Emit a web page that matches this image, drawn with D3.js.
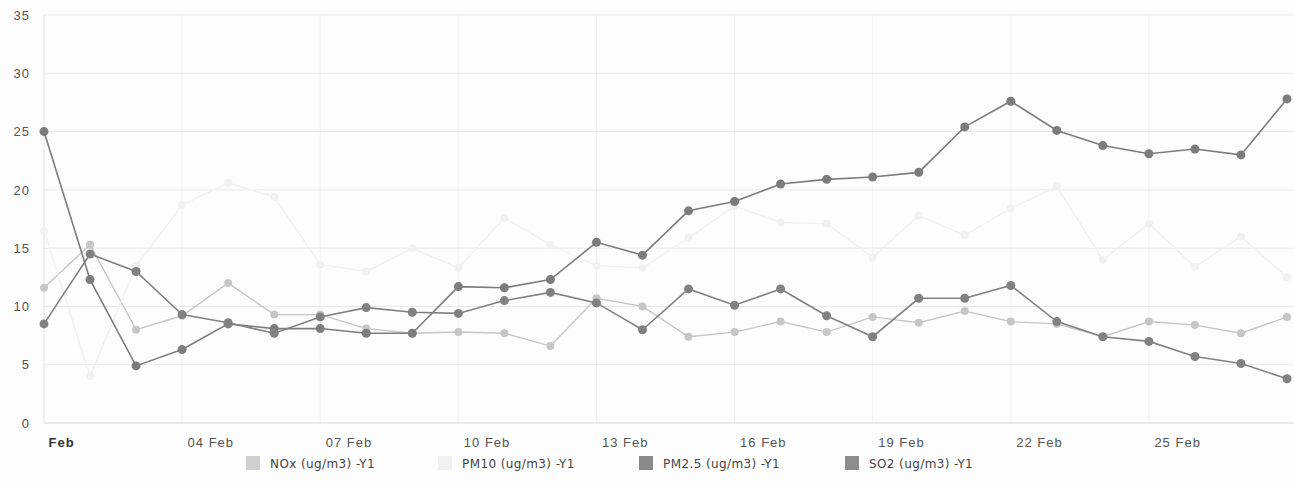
<!DOCTYPE html>
<html>
<head>
<meta charset="utf-8">
<script src="https://cdn.jsdelivr.net/npm/d3@7"></script>
<style>
  body { margin: 0; background: #fdfdfd; }
  svg { display: block; font-family: 'DejaVu Sans', Verdana, sans-serif; }
</style>
</head>
<body>
<svg class="chart"></svg>
<script>
const graphWidth = 1294;
const graphHeight = 488;

// data (one value per day, 01..28 Feb)
const days = d3.range(1, 29);
const nox = [11.6, 15.3, 8.0, 9.2, 12.0, 9.3, 9.3, 8.1, 7.7, 7.8, 7.7, 6.6, 10.7, 10.0,
  7.4, 7.8, 8.7, 7.8, 9.1, 8.6, 9.6, 8.7, 8.5, 7.4, 8.7, 8.4, 7.7, 9.1];
const pm10 = [16.5, 4.0, 13.5, 18.7, 20.6, 19.4, 13.6, 13.0, 15.0, 13.3, 17.6, 15.3, 13.5, 13.3,
  15.9, 18.6, 17.2, 17.1, 14.2, 17.8, 16.1, 18.4, 20.3, 14.0, 17.1, 13.4, 16.0, 12.5];
const pm25 = [25.0, 12.3, 4.9, 6.3, 8.5, 8.1, 8.1, 7.7, 7.7, 11.7, 11.6, 12.3, 15.5, 14.4,
  18.2, 19.0, 20.5, 20.9, 21.1, 21.5, 25.4, 27.6, 25.1, 23.8, 23.1, 23.5, 23.0, 27.8];
const so2 = [8.5, 14.5, 13.0, 9.3, 8.6, 7.7, 9.1, 9.9, 9.5, 9.4, 10.5, 11.2, 10.3, 8.0,
  11.5, 10.1, 11.5, 9.2, 7.4, 10.7, 10.7, 11.8, 8.7, 7.4, 7.0, 5.7, 5.1, 3.8];
const seriesNames = ['NOx (ug/m3) -Y1', 'PM10 (ug/m3) -Y1', 'PM2.5 (ug/m3) -Y1', 'SO2 (ug/m3) -Y1'];
const yTicks = [0, 5, 10, 15, 20, 25, 30, 35];
const xTickDays = [1, 4, 7, 10, 13, 16, 19, 22, 25];

const colors = ['#c6c6c6', '#f1f1f1', '#7c7c7c', '#818181'];
const legendColors = ['#cfcfcf', '#f0f0f0', '#8a8a8a', '#8c8c8c'];

const margin = { top: 15, right: 7, bottom: 65, left: 44 };
const date = d => new Date(Date.UTC(2015, 1, d));

const svg = d3.select('.chart')
  .attr('width', graphWidth)
  .attr('height', graphHeight);

const x = d3.scaleUtc()
  .domain([date(1), date(28)])
  .range([margin.left, graphWidth - margin.right]);
const y = d3.scaleLinear()
  .domain([0, 35])
  .range([graphHeight - margin.bottom, margin.top]);

//Grid
svg.append('g')
  .selectAll('line')
  .data(xTickDays.slice(1))
  .enter()
  .append('line')
  .attr('x1', d => x(date(d)))
  .attr('x2', d => x(date(d)))
  .attr('y1', y(35))
  .attr('y2', y(0))
  .attr('stroke', '#f3f3f3');

svg.append('g')
  .selectAll('line')
  .data(yTicks)
  .enter()
  .append('line')
  .attr('x1', margin.left)
  .attr('x2', graphWidth)
  .attr('y1', d => y(d))
  .attr('y2', d => y(d))
  .attr('stroke', d => d === 0 ? '#d8d8d8' : '#e8e8e8');

svg.append('line')
  .attr('x1', margin.left).attr('x2', margin.left)
  .attr('y1', y(35)).attr('y2', y(0))
  .attr('stroke', '#e2e2e2');

//Axes
const yAxis = svg.append('g')
  .attr('transform', 'translate(' + margin.left + ',0)')
  .call(d3.axisLeft(y).tickValues(yTicks).tickSize(0).tickPadding(14));
yAxis.select('.domain').remove();
yAxis.selectAll('text')
  .style('font-size', '13px')
  .style('letter-spacing', '1px')
  .attr('fill', '#555');

const xAxis = svg.append('g')
  .attr('transform', 'translate(0,' + y(0) + ')')
  .call(d3.axisBottom(x)
    .tickValues(xTickDays.map(date))
    .tickSize(0)
    .tickPadding(15)
    .tickFormat((d, i) => i === 0 ? 'Feb' : d3.utcFormat('%d Feb')(d)));
xAxis.select('.domain').remove();
xAxis.selectAll('text')
  .attr('text-anchor', 'start')
  .attr('dx', 5)
  .style('font-size', '13px')
  .style('letter-spacing', '1px')
  .attr('fill', '#555');
xAxis.selectAll('.tick')
  .filter((d, i) => i === 0)
  .select('text')
  .attr('dx', 4)
  .style('font-weight', 'bold')
  .attr('fill', '#333');

//Series
const allSeries = [nox, pm10, pm25, so2];
const line = d3.line()
  .x((d, i) => x(date(days[i])))
  .y(d => y(d));

allSeries.forEach((values, k) => {
  const g = svg.append('g');
  g.append('path')
    .datum(values)
    .attr('d', line)
    .attr('fill', 'none')
    .attr('stroke', colors[k])
    .attr('stroke-width', k >= 2 ? 1.6 : 1.4);
  g.selectAll('circle')
    .data(values)
    .enter()
    .append('circle')
    .attr('cx', (d, i) => x(date(days[i])))
    .attr('cy', d => y(d))
    .attr('r', k >= 2 ? 4.5 : 4)
    .attr('fill', colors[k]);
});

//Legend
const legendX = [246, 438, 639, 845];
const legend = svg.append('g')
  .selectAll('g')
  .data(seriesNames)
  .enter()
  .append('g')
  .attr('transform', (d, i) => 'translate(' + legendX[i] + ',456)');
legend.append('rect')
  .attr('width', 14)
  .attr('height', 14)
  .attr('fill', (d, i) => legendColors[i]);
legend.append('text')
  .attr('x', 24)
  .attr('y', 12)
  .style('font-size', '12px')
  .style('letter-spacing', '0.4px')
  .attr('fill', '#444')
  .text(d => d);
</script>
</body>
</html>
